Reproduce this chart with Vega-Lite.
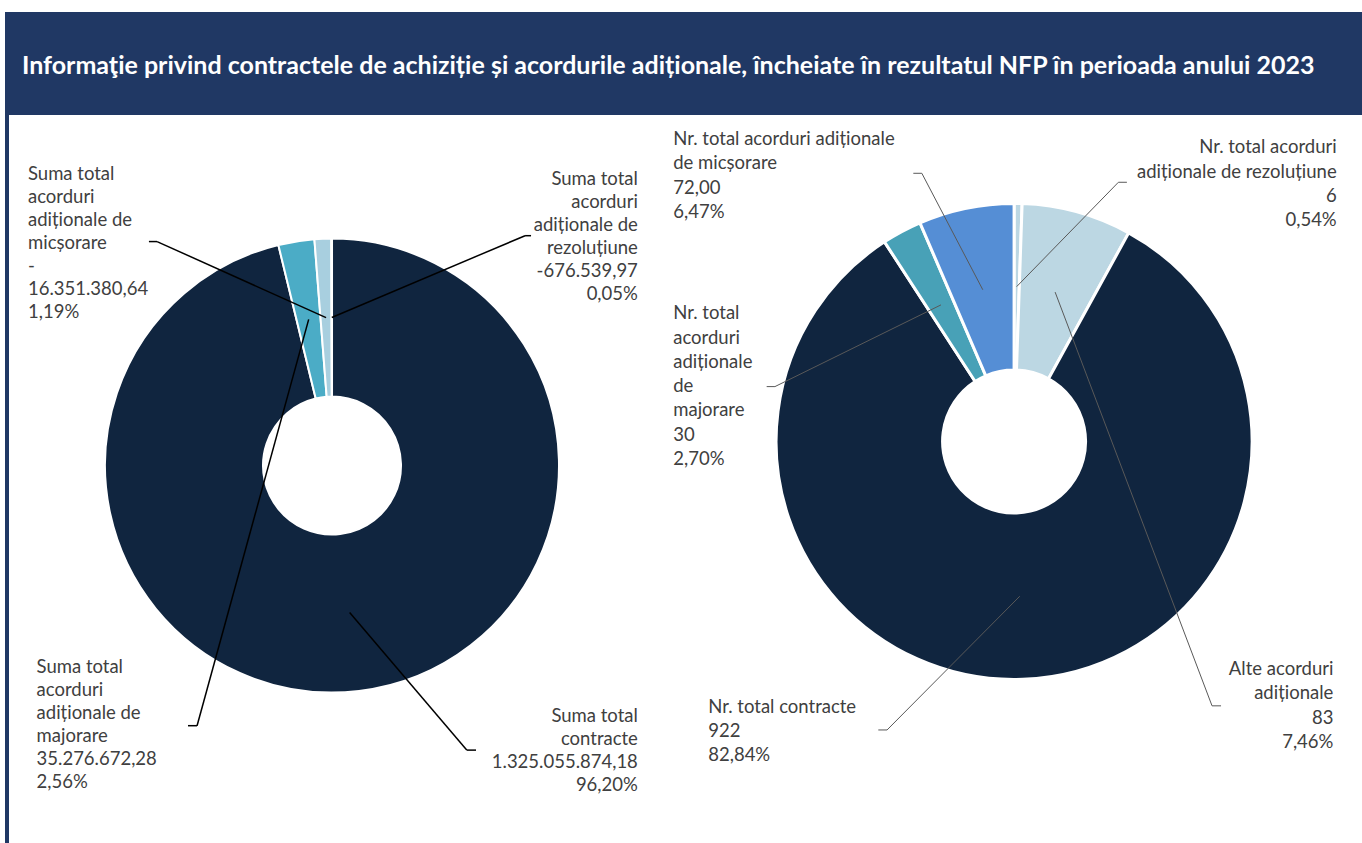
{
  "$schema": "https://vega.github.io/schema/vega-lite/v6.json",
  "padding": {"left": 5, "top": 12, "right": 0, "bottom": 0},
  "background": "white",
  "config": {"view": {"stroke": null}},
  "datasets": {
    "sume": [
      {"ord": 1, "cat": "contracte", "name": "Suma total\ncontracte", "value": 1325055874.18, "shown": "1.325.055.874,18", "pct": "96,20%", "lx": 135.3, "ly": -106.7, "ex": 59.6, "ey": -125.9, "tx": 63.7},
      {"ord": 2, "cat": "majorare", "name": "Suma total\nacorduri\nadiționale de\nmajorare", "value": 35276672.28, "shown": "35.276.672,28", "pct": "2,56%", "lx": -130.7, "ly": -85.3, "ex": -59.7, "ey": -115.1, "tx": -63.7},
      {"ord": 3, "cat": "micsorare", "name": "Suma total\nacorduri\nadiționale de\nmicșorare", "value": -16351380.64, "shown": "-\n16.351.380,64", "pct": "1,19%", "lx": -134.5, "ly": 133.0, "ex": -77.4, "ey": 99.1, "tx": -81.0},
      {"ord": 4, "cat": "rezolutiune", "name": "Suma total\nacorduri\nadiționale de\nrezoluțiune", "value": -676539.97, "shown": "-676.539,97", "pct": "0,05%", "lx": 135.3, "ly": 130.8, "ex": 85.4, "ey": 101.7, "tx": 88.05}
    ],
    "nr": [
      {"ord": 1, "cat": "rezolutiune", "name": "Nr. total acorduri\nadiționale de rezoluțiune", "value": 6, "shown": "6", "pct": "0,54%", "lx": 136.4, "ly": 128.2, "ex": 44.1, "ey": 109.6, "tx": 47.7},
      {"ord": 2, "cat": "alte", "name": "Alte acorduri\nadiționale", "value": 83, "shown": "83", "pct": "7,46%", "lx": 135.0, "ly": -92.4, "ex": 83.7, "ey": -111.8, "tx": 87.5},
      {"ord": 3, "cat": "contracte", "name": "Nr. total contracte", "value": 922, "shown": "922", "pct": "82,84%", "lx": -129.3, "ly": -108.3, "ex": -53.7, "ey": -122.0, "tx": -57.4},
      {"ord": 4, "cat": "majorare", "name": "Nr. total\nacorduri\nadiționale\nde\nmajorare", "value": 30, "shown": "30", "pct": "2,70%", "lx": -144.1, "ly": 58.0, "ex": -101.1, "ey": 23.2, "tx": -104.6},
      {"ord": 5, "cat": "micsorare", "name": "Nr. total acorduri adiționale\nde micșorare", "value": 72, "shown": "72,00", "pct": "6,47%", "lx": -144.1, "ly": 131.7, "ex": -39.0, "ey": 113.4, "tx": -42.6}
    ]
  },
  "vconcat": [
    {
      "width": 1357,
      "height": 103,
      "view": {"fill": "#203864", "stroke": null},
      "data": {"values": [{"t": "Informaţie privind contractele de achiziție și acordurile adiționale, încheiate în rezultatul NFP în perioada anului 2023"}]},
      "mark": {"type": "text", "align": "left", "baseline": "alphabetic", "font": "Lato", "fontWeight": "bold", "fontSize": 25, "color": "white"},
      "encoding": {
        "text": {"field": "t"},
        "x": {"datum": 0.0125, "type": "quantitative", "scale": {"domain": [0, 1], "nice": false, "zero": false}, "axis": null},
        "y": {"datum": 0.4, "type": "quantitative", "scale": {"domain": [0, 1], "nice": false, "zero": false}, "axis": null}
      }
    },
    {
      "hconcat": [
        {
          "width": 4,
          "height": 728,
          "view": {"fill": "#203864", "stroke": null},
          "data": {"values": [{"k": 1}]},
          "mark": {"type": "rect", "color": "#203864"}
        },
        {
          "width": 651,
          "height": 728,
          "data": {"name": "sume"},
          "transform": [
            {"calculate": "abs(datum.value)", "as": "mag"},
            {"joinaggregate": [{"op": "sum", "field": "mag", "as": "tot"}]},
            {"window": [{"op": "sum", "field": "mag", "as": "cum"}], "sort": [{"field": "ord", "order": "ascending"}], "frame": [null, 0]},
            {"calculate": "2*PI*(datum.cum - datum.mag/2)/datum.tot", "as": "mid"},
            {"calculate": "65.5*sin(datum.mid)", "as": "sx"},
            {"calculate": "65.5*cos(datum.mid)", "as": "sy"},
            {"calculate": "datum.name + '\\n' + datum.shown + '\\n' + datum.pct", "as": "label"}
          ],
          "layer": [
            {
              "mark": {"type": "arc", "outerRadius": 227, "innerRadius": 69, "stroke": "white", "strokeWidth": 2},
              "encoding": {
                "theta": {"field": "mag", "type": "quantitative", "stack": true},
                "order": {"field": "ord", "type": "quantitative"},
                "color": {"field": "cat", "type": "nominal", "legend": null, "scale": {"domain": ["contracte", "majorare", "micsorare", "rezolutiune"], "range": ["#10253F", "#4BACC6", "#A8CFDF", "#C6E0EA"]}},
                "x": {"datum": 0, "type": "quantitative", "scale": {"domain": [-142.9, 145.1], "nice": false, "zero": false}, "axis": null},
                "y": {"datum": 0, "type": "quantitative", "scale": {"domain": [-167.0, 155.1], "nice": false, "zero": false}, "axis": null}
              }
            },
            {
              "mark": {"type": "rule", "color": "#000000", "strokeWidth": 1.5},
              "encoding": {
                "x": {"field": "sx", "type": "quantitative", "scale": {"domain": [-142.9, 145.1], "nice": false, "zero": false}, "axis": null},
                "y": {"field": "sy", "type": "quantitative", "scale": {"domain": [-167.0, 155.1], "nice": false, "zero": false}, "axis": null},
                "x2": {"field": "ex"},
                "y2": {"field": "ey"}
              }
            },
            {
              "mark": {"type": "rule", "color": "#000000", "strokeWidth": 1.5},
              "encoding": {
                "x": {"field": "ex", "type": "quantitative", "scale": {"domain": [-142.9, 145.1], "nice": false, "zero": false}, "axis": null},
                "x2": {"field": "tx"},
                "y": {"field": "ey", "type": "quantitative", "scale": {"domain": [-167.0, 155.1], "nice": false, "zero": false}, "axis": null}
              }
            },
            {
              "transform": [{"filter": "datum.lx < 0"}],
              "mark": {"type": "text", "align": "left", "baseline": "top", "font": "Lato", "fontSize": 18.5, "lineHeight": 23, "lineBreak": "\n", "color": "#404040"},
              "encoding": {
                "x": {"field": "lx", "type": "quantitative", "scale": {"domain": [-142.9, 145.1], "nice": false, "zero": false}, "axis": null},
                "y": {"field": "ly", "type": "quantitative", "scale": {"domain": [-167.0, 155.1], "nice": false, "zero": false}, "axis": null},
                "text": {"field": "label"}
              }
            },
            {
              "transform": [{"filter": "datum.lx >= 0"}],
              "mark": {"type": "text", "align": "right", "baseline": "top", "font": "Lato", "fontSize": 18.5, "lineHeight": 23, "lineBreak": "\n", "color": "#404040"},
              "encoding": {
                "x": {"field": "lx", "type": "quantitative", "scale": {"domain": [-142.9, 145.1], "nice": false, "zero": false}, "axis": null},
                "y": {"field": "ly", "type": "quantitative", "scale": {"domain": [-167.0, 155.1], "nice": false, "zero": false}, "axis": null},
                "text": {"field": "label"}
              }
            }
          ]
        },
        {
          "width": 702,
          "height": 728,
          "data": {"name": "nr"},
          "transform": [
            {"calculate": "abs(datum.value)", "as": "mag"},
            {"joinaggregate": [{"op": "sum", "field": "mag", "as": "tot"}]},
            {"window": [{"op": "sum", "field": "mag", "as": "cum"}], "sort": [{"field": "ord", "order": "ascending"}], "frame": [null, 0]},
            {"calculate": "2*PI*(datum.cum - datum.mag/2)/datum.tot", "as": "mid"},
            {"calculate": "65.5*sin(datum.mid)", "as": "sx"},
            {"calculate": "65.5*cos(datum.mid)", "as": "sy"},
            {"calculate": "datum.name + '\\n' + datum.shown + '\\n' + datum.pct", "as": "label"}
          ],
          "layer": [
            {
              "mark": {"type": "arc", "outerRadius": 238, "innerRadius": 71.5, "stroke": "white", "strokeWidth": 3},
              "encoding": {
                "theta": {"field": "mag", "type": "quantitative", "stack": true},
                "order": {"field": "ord", "type": "quantitative"},
                "color": {"field": "cat", "type": "nominal", "legend": null, "scale": {"domain": ["rezolutiune", "alte", "contracte", "majorare", "micsorare"], "range": ["#BCD7E3", "#BCD7E3", "#10253F", "#48A1B7", "#558ED5"]}},
                "x": {"datum": 0, "type": "quantitative", "scale": {"domain": [-149.7, 147.1], "nice": false, "zero": false}, "axis": null},
                "y": {"datum": 0, "type": "quantitative", "scale": {"domain": [-169.8, 138.05], "nice": false, "zero": false}, "axis": null}
              }
            },
            {
              "mark": {"type": "rule", "color": "#595959", "strokeWidth": 1},
              "encoding": {
                "x": {"field": "sx", "type": "quantitative", "scale": {"domain": [-149.7, 147.1], "nice": false, "zero": false}, "axis": null},
                "y": {"field": "sy", "type": "quantitative", "scale": {"domain": [-169.8, 138.05], "nice": false, "zero": false}, "axis": null},
                "x2": {"field": "ex"},
                "y2": {"field": "ey"}
              }
            },
            {
              "mark": {"type": "rule", "color": "#595959", "strokeWidth": 1},
              "encoding": {
                "x": {"field": "ex", "type": "quantitative", "scale": {"domain": [-149.7, 147.1], "nice": false, "zero": false}, "axis": null},
                "x2": {"field": "tx"},
                "y": {"field": "ey", "type": "quantitative", "scale": {"domain": [-169.8, 138.05], "nice": false, "zero": false}, "axis": null}
              }
            },
            {
              "transform": [{"filter": "datum.lx < 0"}],
              "mark": {"type": "text", "align": "left", "baseline": "top", "font": "Lato", "fontSize": 18.5, "lineHeight": 24.3, "lineBreak": "\n", "color": "#404040"},
              "encoding": {
                "x": {"field": "lx", "type": "quantitative", "scale": {"domain": [-149.7, 147.1], "nice": false, "zero": false}, "axis": null},
                "y": {"field": "ly", "type": "quantitative", "scale": {"domain": [-169.8, 138.05], "nice": false, "zero": false}, "axis": null},
                "text": {"field": "label"}
              }
            },
            {
              "transform": [{"filter": "datum.lx >= 0"}],
              "mark": {"type": "text", "align": "right", "baseline": "top", "font": "Lato", "fontSize": 18.5, "lineHeight": 24.3, "lineBreak": "\n", "color": "#404040"},
              "encoding": {
                "x": {"field": "lx", "type": "quantitative", "scale": {"domain": [-149.7, 147.1], "nice": false, "zero": false}, "axis": null},
                "y": {"field": "ly", "type": "quantitative", "scale": {"domain": [-169.8, 138.05], "nice": false, "zero": false}, "axis": null},
                "text": {"field": "label"}
              }
            }
          ]
        }
      ],
      "spacing": 0,
      "bounds": "flush",
      "resolve": {"scale": {"color": "independent", "x": "independent", "y": "independent"}}
    }
  ],
  "spacing": 0,
  "bounds": "flush"
}
